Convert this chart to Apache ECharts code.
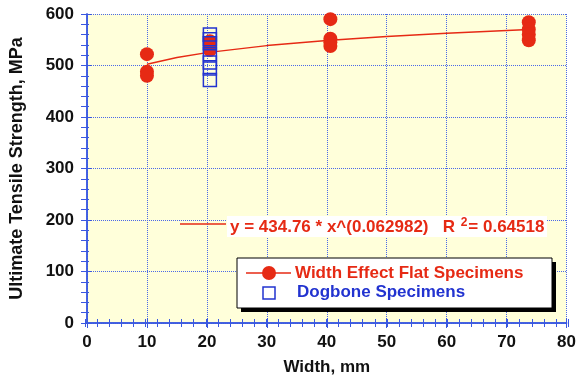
<!DOCTYPE html>
<html>
<head>
<meta charset="utf-8">
<script src="https://cdn.jsdelivr.net/npm/echarts@6/dist/echarts.min.js"></script>
<style>html,body{margin:0;padding:0;background:#fff;}#c{width:579px;height:381px;}</style>
</head>
<body>
<div id="c"></div>
<script>
const xTitle = 'Width, mm';
const yTitle = 'Ultimate Tensile Strength, MPa';
const flatName = 'Width Effect Flat Specimens';
const dogboneName = 'Dogbone Specimens';
const equationText = 'y = 434.76 * x^(0.062982)';
const r2Text = '= 0.64518';

const flatWidths = [10, 10, 10, 20.5, 20.5, 20.5, 40.6, 40.6, 40.6, 40.6, 73.7, 73.7, 73.7, 73.7];
const flatUTS = [522, 488, 480, 547, 538, 530, 590, 552, 545, 538, 584, 570, 560, 549];
const dogboneWidths = [20.5, 20.5, 20.5, 20.5, 20.5, 20.5, 20.5];
const dogboneUTS = [560, 551, 543, 522, 506, 494, 472];
const fitWidths = [10, 15, 20, 30, 40, 50, 60, 73.7];
const fitUTS = [502.6, 515.7, 525, 538.6, 548.5, 556.2, 562.7, 570];

const RED = '#e62a14';
const BLUE = '#2233d0';
const AXIS = '#3a58e0';
const FONT = '"Liberation Sans", Arial, sans-serif';

const chart = echarts.init(document.getElementById('c'), null, {renderer: 'canvas'});

function zip(a, b) { return a.map((v, i) => [v, b[i]]); }

const G = {left: 85, right: 11, top: 14, bottom: 58};
const axisLineOn = {show: true, lineStyle: {color: AXIS, width: 1.5}};
const majorTick = {show: true, inside: true, length: 5, lineStyle: {color: AXIS, width: 1}};
const minorTickAxis = {show: true, inside: true, length: 4, lineStyle: {color: AXIS, width: 1}};
const gridStyle = {type: 'dotted', color: '#4a68e8', width: 1};

function tickOnlyX(pos, gridIndex, interval, tk, line) {
  return {
    type: 'value', gridIndex: gridIndex, min: 0, max: 80, interval: interval, position: pos,
    axisLine: line ? axisLineOn : {show: false}, axisTick: tk,
    splitLine: {show: false}, axisLabel: {show: false}
  };
}
function tickOnlyY(pos, gridIndex, interval, tk, line) {
  return {
    type: 'value', gridIndex: gridIndex, min: 0, max: 600, interval: interval, position: pos,
    axisLine: line ? axisLineOn : {show: false}, axisTick: tk,
    splitLine: {show: false}, axisLabel: {show: false}
  };
}

chart.setOption({
  backgroundColor: '#ffffff',
  animation: false,
  grid: [
    Object.assign({show: true, backgroundColor: '#ffffda', borderWidth: 0}, G),
    Object.assign({show: false}, G)
  ],
  xAxis: [
    {
      type: 'value', gridIndex: 0, min: 0, max: 80, interval: 10, position: 'bottom',
      name: xTitle, nameLocation: 'middle', nameGap: 36,
      nameTextStyle: {fontFamily: FONT, fontWeight: 'bold', fontSize: 17, color: '#111'},
      axisLine: axisLineOn, axisTick: majorTick,
      splitLine: {show: true, lineStyle: gridStyle},
      axisLabel: {fontFamily: FONT, fontWeight: 'bold', fontSize: 17, color: '#111', margin: 11}
    },
    tickOnlyX('top', 0, 10, majorTick, true),
    tickOnlyX('bottom', 1, 2, minorTickAxis, false),
    tickOnlyX('top', 1, 2, minorTickAxis, false)
  ],
  yAxis: [
    {
      type: 'value', gridIndex: 0, min: 0, max: 600, interval: 100, position: 'left',
      name: yTitle, nameLocation: 'middle', nameGap: 61,
      nameTextStyle: {fontFamily: FONT, fontWeight: 'bold', fontSize: 18, color: '#111'},
      axisLine: axisLineOn, axisTick: majorTick,
      splitLine: {show: true, lineStyle: gridStyle},
      axisLabel: {fontFamily: FONT, fontWeight: 'bold', fontSize: 17, color: '#111', margin: 13}
    },
    tickOnlyY('right', 0, 100, majorTick, true),
    tickOnlyY('left', 1, 20, minorTickAxis, false),
    tickOnlyY('right', 1, 20, minorTickAxis, false)
  ],
  series: [
    {
      name: 'fit', type: 'line', xAxisIndex: 0, yAxisIndex: 0, data: zip(fitWidths, fitUTS),
      showSymbol: false, symbol: 'none', lineStyle: {color: RED, width: 1.5}, z: 2
    },
    {
      name: flatName, type: 'scatter', xAxisIndex: 0, yAxisIndex: 0, data: zip(flatWidths, flatUTS),
      symbol: 'circle', symbolSize: 14, itemStyle: {color: RED, opacity: 1}, z: 3
    },
    {
      name: dogboneName, type: 'scatter', xAxisIndex: 0, yAxisIndex: 0, data: zip(dogboneWidths, dogboneUTS),
      symbol: 'rect', symbolSize: 13,
      itemStyle: {color: 'rgba(0,0,0,0)', borderColor: BLUE, borderWidth: 1.5, opacity: 1}, z: 4
    }
  ],
  graphic: [
    {type: 'line', shape: {x1: 180, y1: 224, x2: 226, y2: 224}, style: {stroke: RED, lineWidth: 1.5}, z: 10},
    {type: 'rect', shape: {x: 227, y: 216, width: 320, height: 21}, style: {fill: '#ffffff'}, z: 10},
    {
      type: 'text', x: 230, y: 227, z: 11,
      style: {
        text: '{a|' + equationText + '}{b|   R }{s|2}{a|' + r2Text + '}',
        verticalAlign: 'middle',
        rich: {
          a: {fontFamily: FONT, fontWeight: 'bold', fontSize: 17, fill: RED},
          b: {fontFamily: FONT, fontWeight: 'bold', fontSize: 17, fill: RED},
          s: {fontFamily: FONT, fontWeight: 'bold', fontSize: 12, fill: RED, verticalAlign: 'top', padding: [0, 1, 8, 1]}
        }
      }
    },
    {type: 'rect', shape: {x: 241, y: 262, width: 315, height: 50}, style: {fill: '#000000'}, z: 10},
    {type: 'rect', shape: {x: 237, y: 258, width: 315, height: 50}, style: {fill: '#ffffff', stroke: '#000000', lineWidth: 1}, z: 11},
    {type: 'line', shape: {x1: 246, y1: 273, x2: 291, y2: 273}, style: {stroke: RED, lineWidth: 1.5}, z: 12},
    {type: 'circle', shape: {cx: 269, cy: 273, r: 7}, style: {fill: RED}, z: 12},
    {
      type: 'text', x: 295, y: 273, z: 12,
      style: {text: flatName, fontFamily: FONT, fontWeight: 'bold', fontSize: 17, fill: RED, verticalAlign: 'middle'}
    },
    {type: 'rect', shape: {x: 263, y: 287, width: 12, height: 12}, style: {fill: 'none', stroke: BLUE, lineWidth: 1.5}, z: 12},
    {
      type: 'text', x: 297, y: 292, z: 12,
      style: {text: dogboneName, fontFamily: FONT, fontWeight: 'bold', fontSize: 17, fill: BLUE, verticalAlign: 'middle'}
    }
  ]
});
</script>
</body>
</html>
